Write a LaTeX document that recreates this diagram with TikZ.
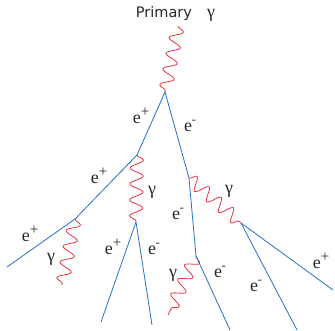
\documentclass[tikz,border=0pt]{standalone}
\usepackage{fontspec}
\setmainfont{Liberation Serif}
\newfontfamily\labsans{DejaVu Sans}
\usetikzlibrary{decorations.pathmorphing}
\definecolor{phred}{RGB}{232,52,64}
\definecolor{lepblue}{RGB}{38,112,200}
\tikzset{
  photon/.style={draw=phred, line width=0.8pt, decorate, decoration={snake, segment length=16pt, amplitude=6.5pt}},
  lepton/.style={draw=lepblue, line width=0.8pt},
  lab/.style={font=\fontsize{18}{18}\selectfont, inner sep=0pt, text=black!85},
}
\newcommand{\epos}{e\raisebox{0.42em}{\fontsize{15}{15}\selectfont +}}
\newcommand{\eneg}{e\raisebox{0.45em}{\fontsize{12}{12}\selectfont -}}
\begin{document}
\begin{tikzpicture}[x=1pt,y=-1pt]
\useasboundingbox (0,0) rectangle (335,331);
% vertices
\coordinate (p0) at (178,26);
\coordinate (v1) at (165,92);
\coordinate (v2) at (137,155);
\coordinate (v3) at (189,178);
\coordinate (v4) at (241,223);
\coordinate (v5) at (196,256);
\coordinate (v6) at (75,219);
\coordinate (v7) at (136,222);
\coordinate (e1) at (7,267);
\coordinate (e2) at (101,322);
\coordinate (e3) at (152,325);
\coordinate (e4) at (230,330);
\coordinate (e5) at (297,330);
\coordinate (e6) at (333,290);
\coordinate (g1) at (62,285);
\coordinate (g2) at (168,315);
% photons
\draw[photon] (p0) -- (v1);
\draw[photon] (v2) -- (v7);
\draw[photon] (v3) -- (v4);
\draw[photon] (v6) -- (g1);
\draw[photon] (v5) -- (g2);
% leptons
\draw[lepton] (v1) -- (v2) -- (v6) -- (e1);
\draw[lepton] (v1) -- (v3) -- (v5) -- (e4);
\draw[lepton] (v7) -- (e2);
\draw[lepton] (v7) -- (e3);
\draw[lepton] (v4) -- (e5);
\draw[lepton] (v4) -- (e6);
% labels
\node[lab, font=\labsans\fontsize{14.5}{15}\selectfont] (tp) at (164,14) {Primary};
\node[lab] (tg) at (211,15) {γ};
\node[lab] (l1) at (141,116) {\epos};
\node[lab] (l2) at (190,126) {\eneg};
\node[lab] (l3) at (99,176) {\epos};
\node[lab] (l4) at (152,192) {γ};
\node[lab] (l5) at (30,234) {\epos};
\node[lab] (l6) at (51,259) {γ};
\node[lab] (l7) at (113,247) {\epos};
\node[lab] (l8) at (154,249) {\eneg};
\node[lab] (l9) at (229,191) {γ};
\node[lab] (l10) at (178,214) {\eneg};
\node[lab] (l11) at (220,272) {\eneg};
\node[lab] (l12) at (256,286) {\eneg};
\node[lab] (l13) at (321,261) {\epos};
\node[lab] (l14) at (173,275) {γ};
\end{tikzpicture}
\end{document}
